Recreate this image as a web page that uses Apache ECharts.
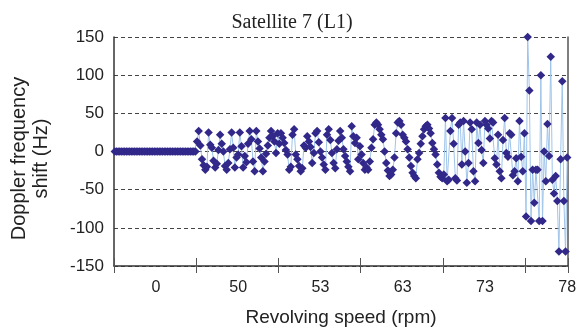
<!DOCTYPE html>
<html>
<head>
<meta charset="utf-8">
<script src="https://cdn.jsdelivr.net/npm/echarts@6/dist/echarts.min.js"></script>
<style>html,body{margin:0;padding:0;background:#fff}#c{width:584px;height:332px}</style>
</head>
<body>
<div id="c"></div>
<script>
var groupLabels = ['0', '50', '53', '63', '73', '78'];
var yTicks = [-150, -100, -50, 0, 50, 100, 150];

var shift0 = [0,0,0,0,0,0,0,0,0,0, 0,0,0,0,0,0,0,0,0,0, 0,0,0,0,0,0,0,0,0,0, 0,0,0,0,0,0,0,0,0,0, 0,0,0,0,0,0,0,0,0,0];
var shift50 = [13,27,8,-10,-18,-24,-20,25,9,5, -12,-21,-16,2,22,10,0,-19,-24,-15, 3,25,5,-21,-8,-4,25,7,-21,-6, -14,10,27,16,-13,-26,27,13,4,-8, -26,-13,-3,8,18,27,20,13,-2,24];
var shift53 = [10,24,18,11,2,-4,-24,-20,22,29, -4,-10,-19,-26,-22,8,5,20,13,6, -15,-2,24,27,12,0,-8,-17,-24,22, 29,15,-2,-15,-22,3,14,27,18,3, -6,-13,-20,-26,33,20,11,18,-10,7];
var shift63 = [-4,-15,-24,-21,-24,-13,5,16,35,38, 35,29,22,16,0,-15,-25,-32,-30,-24, -8,24,38,40,35,22,18,13,3,-8, -19,-28,-32,-35,-10,-2,10,20,29,33, 35,30,24,11,3,-4,-17,-28,-33,-35];
var shift73 = [-30,44,-39,-37,27,44,10,-35,-38,35, 38,-17,40,0,-41,-15,38,29,-26,-39, 38,11,35,2,-15,40,35,30,17,40, 38,-9,-17,22,-26,-35,15,44,-2,-7, 24,22,-31,-26,-9,-39,40,-7,-26,24];
var shift78 = [-85,150,80,-91,-24,-67,-24,-24,-91,100, -91,0,-39,36,-6,124,-37,-55,-32,-65, -131,-10,92,-65,-131,-8];

var groups = [shift0, shift50, shift53, shift63, shift73, shift78];
var GROUP = 50;
var cats = [], values = [];
groups.forEach(function (g, gi) {
  g.forEach(function (v) { cats.push(groupLabels[gi]); values.push(v); });
});

var font = "'Liberation Sans', Arial, Helvetica, sans-serif";
var chart = echarts.init(document.getElementById('c'), null, {renderer: 'canvas'});
chart.setOption({
  animation: false,
  backgroundColor: '#fff',
  title: {
    text: 'Satellite 7 (L1)', left: 'center', top: 8,
    textStyle: {fontFamily: "'Liberation Serif', 'Times New Roman', serif", fontSize: 20, fontWeight: 'normal', color: '#222'}
  },
  grid: {left: 111, right: 16, top: 37, bottom: 66},
  xAxis: [{
    type: 'category', data: cats, position: 'bottom', boundaryGap: true,
    axisLine: {show: true, onZero: false, lineStyle: {color: '#333', width: 1.5}},
    axisTick: {show: true, length: 7, interval: function (i) { return i % GROUP === 0; }, lineStyle: {color: '#555', width: 1}},
    axisLabel: {show: true, interval: function (i) { return i % GROUP === 25; }, margin: 14,
      fontFamily: font, fontSize: 16, color: '#222'},
    name: 'Revolving speed (rpm)', nameLocation: 'middle', nameGap: 42,
    nameTextStyle: {fontFamily: font, fontSize: 19, color: '#222'},
    splitLine: {show: false}
  }, {
    type: 'category', data: cats, position: 'bottom', boundaryGap: true,
    axisLine: {show: false, onZero: false},
    axisTick: {show: true, inside: true, length: 8, interval: function (i) { return i % GROUP === 0; }, lineStyle: {color: '#555', width: 1}},
    axisLabel: {show: false}, splitLine: {show: false}
  }],
  yAxis: [{
    type: 'value', min: -150, max: 150, interval: 50,
    axisLine: {show: true, lineStyle: {color: '#333', width: 1.5}},
    axisTick: {show: false},
    axisLabel: {margin: 10, fontFamily: font, fontSize: 17, color: '#222'},
    splitLine: {show: true, lineStyle: {color: '#444', type: [4, 3], width: 1}},
    name: 'Doppler frequency\nshift (Hz)', nameLocation: 'middle', nameGap: 62,
    nameTextStyle: {fontFamily: font, fontSize: 20, lineHeight: 22, color: '#222', padding: [0, 14, 0, 0]}
  }, {
    type: 'value', min: -150, max: 150, interval: 50, position: 'right',
    axisLine: {show: true, lineStyle: {color: '#555', width: 1.5}},
    axisTick: {show: false}, axisLabel: {show: false}, splitLine: {show: false}
  }],
  series: [{
    type: 'line', data: values, xAxisIndex: 0, yAxisIndex: 0,
    symbol: 'diamond', symbolSize: 8.5, showSymbol: true, showAllSymbol: true,
    lineStyle: {color: '#9fc4ea', width: 1},
    itemStyle: {color: '#31288a'},
    z: 3
  }]
});
</script>
</body>
</html>
